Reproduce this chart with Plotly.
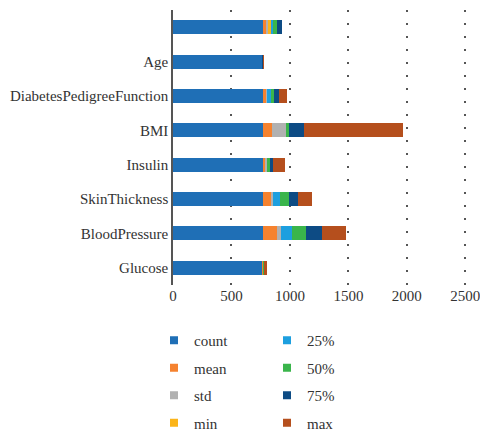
import plotly.graph_objects as go

# Row labels, bottom to top
labels = ["Glucose", "BloodPressure", "SkinThickness", "Insulin", "BMI",
          "DiabetesPedigreeFunction", "Age", ""]

# Summary statistics per row (stacked left to right)
count = [768, 768, 768, 768, 768, 768, 768, 768]
mean = [3.845, 120.89, 69.11, 20.54, 79.80, 31.99, 0.472, 33.24]
std = [3.370, 31.97, 19.36, 15.95, 115.24, 7.88, 0.331, 11.76]
vmin = [0, 0, 0, 0, 0, 0, 0.078, 21]
p25 = [1, 99, 62, 0, 0, 27.3, 0.244, 24]
p50 = [3, 117, 72, 23, 30.5, 32, 0.3725, 29]
p75 = [6, 140.25, 80, 32, 127.25, 36.6, 0.626, 41]
vmax = [17, 199, 122, 99, 846, 67.1, 2.42, None]

series = [
    ("count", count, "#1f6fb6"),
    ("mean", mean, "#f5822f"),
    ("std", std, "#b1b1b1"),
    ("min", vmin, "#fbb419"),
    ("25%", p25, "#1d9fdf"),
    ("50%", p50, "#3ab54b"),
    ("75%", p75, "#0d4b84"),
    ("max", vmax, "#b54f1d"),
]

pos = list(range(len(labels)))
serif = "Liberation Serif"

fig = go.Figure()
for name, vals, col in series:
    fig.add_trace(go.Bar(
        x=vals, y=pos, orientation="h", name=name,
        marker=dict(color=col, line=dict(width=0)),
        width=0.41, showlegend=False,
    ))

# Legend entries with small square keys, split into two columns
for i, (name, vals, col) in enumerate(series):
    fig.add_trace(go.Scatter(
        x=[None], y=[None], mode="markers", name=name,
        marker=dict(symbol="square", size=8, color=col),
        legend="legend" if i < 4 else "legend2",
        legendgroup=name,
    ))

legend_common = dict(
    orientation="v", xanchor="left", yanchor="top",
    xref="container", yref="container",
    font=dict(family=serif, size=15, color="#333333"),
    bgcolor="rgba(0,0,0,0)", traceorder="grouped", tracegroupgap=5,
    itemwidth=30,
)

fig.update_layout(
    width=480, height=436,
    margin=dict(l=173, r=3, t=10, b=151, autoexpand=False),
    plot_bgcolor="white", paper_bgcolor="white",
    barmode="stack", bargap=0,
    font=dict(family=serif, size=15, color="#333333"),
    xaxis=dict(
        range=[0, 2600], tickvals=[0, 500, 1000, 1500, 2000, 2500],
        showgrid=True, gridcolor="#555555", gridwidth=1.5,
        griddash="2px,11px", zeroline=False, showline=False,
        ticks="", ticklabeloverflow="allow",
        tickfont=dict(family=serif, size=15, color="#333333"),
    ),
    yaxis=dict(
        range=[-0.5, 7.5], tickvals=pos, ticktext=labels,
        showgrid=False, zeroline=False, showline=True,
        linecolor="#555555", linewidth=1.5, ticks="",
        tickfont=dict(family=serif, size=15, color="#333333"),
    ),
    legend=dict(x=154 / 480, y=1 - 324 / 436, **legend_common),
    legend2=dict(x=267 / 480, y=1 - 324 / 436, **legend_common),
)

fig.write_html("out.html")
